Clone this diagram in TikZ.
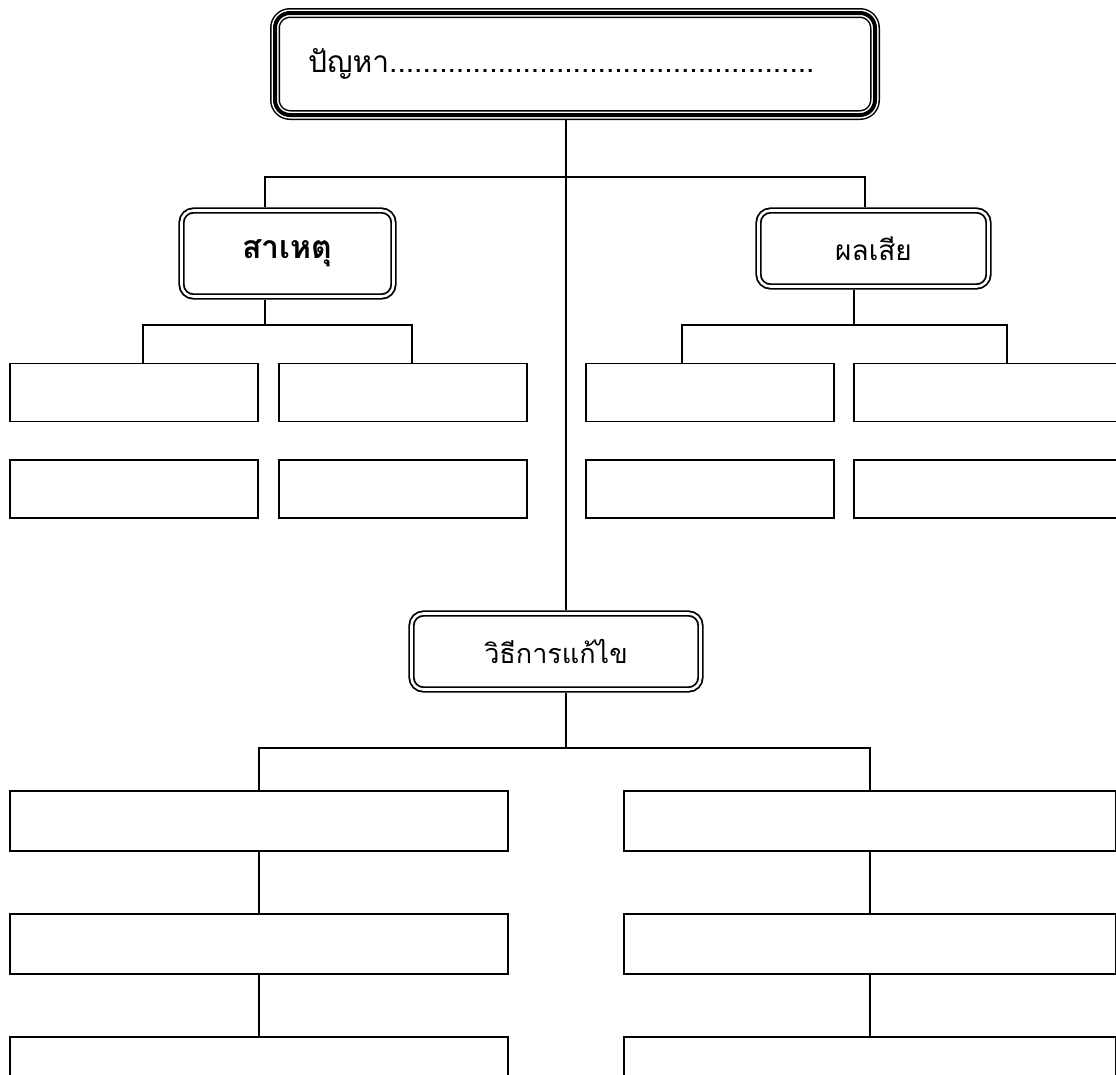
\documentclass[tikz,border=0pt]{standalone}
\usepackage{fontspec}
\newfontfamily\thaifont[Script=Thai]{Loma}
\usepackage{tikz}
\usetikzlibrary{positioning}

\begin{document}
\begin{tikzpicture}[
    x=1pt, y=-1pt,
    tripleframe/.style={rectangle, rounded corners=15pt, draw, line width=10pt,
        postaction={draw=white, line width=7pt}, postaction={draw=black, line width=4pt}},
    doubleframe/.style={rectangle, rounded corners=12pt, draw, double, line width=1.8pt,
        double distance=2.6pt, outer sep=3.5pt, inner sep=0pt},
    blank/.style={rectangle, draw, line width=1.8pt, inner sep=0pt, minimum height=58pt},
    wide/.style={blank, minimum height=60pt},
    link/.style={line width=1.5pt}
]
\clip (0,0) rectangle (1116,1074);

% Problem box
\node[tripleframe, minimum width=600pt, minimum height=102pt, text width=534pt, inner xsep=33pt,
    align=left, font=\thaifont\fontsize{30}{36}\selectfont] (problem) at (575,64)
    {ปัญหา...................................................};

% Cause and effect
\node[doubleframe, minimum width=212pt, minimum height=86pt,
    font=\thaifont\bfseries\fontsize{32}{38}\selectfont] (cause) at (287.5,253.5) {สาเหตุ};
\node[doubleframe, minimum width=230pt, minimum height=76pt,
    font=\thaifont\fontsize{28}{33}\selectfont] (effect) at (873.5,248.5) {ผลเสีย};

% Cause boxes
\node[blank, minimum width=248pt] (c1) at (134,392.5) {};
\node[blank, minimum width=248pt] (c2) at (403,392.5) {};
\node[blank, minimum width=248pt] (c3) at (134,489) {};
\node[blank, minimum width=248pt] (c4) at (403,489) {};

% Effect boxes
\node[blank, minimum width=248pt] (e1) at (710,392.5) {};
\node[blank, minimum width=270pt] (e2) at (989,392.5) {};
\node[blank, minimum width=248pt] (e3) at (710,489) {};
\node[blank, minimum width=270pt] (e4) at (989,489) {};

% Solution
\node[doubleframe, minimum width=289pt, minimum height=76pt,
    font=\thaifont\fontsize{27}{32}\selectfont] (solution) at (556,651.5) {วิธีการแก้ไข};

\node[wide, minimum width=498pt] (s1) at (259,821) {};
\node[wide, minimum width=498pt] (s2) at (259,944) {};
\node[wide, minimum width=498pt] (s3) at (259,1067) {};
\node[wide, minimum width=492pt] (r1) at (870,821) {};
\node[wide, minimum width=492pt] (r2) at (870,944) {};
\node[wide, minimum width=492pt] (r3) at (870,1067) {};

% Junctions
\coordinate (trunk) at (566,177);
\coordinate (causesplit) at (265,325);
\coordinate (effectsplit) at (854,325);
\coordinate (solvesplit) at (566,748);

% Lines
\draw[link] (problem.south -| trunk) -- (solution.north -| trunk);
\draw[link] ([xshift=-22.5pt]cause.north) |- (trunk) -| ([xshift=-8.5pt]effect.north);
\draw[link] ([xshift=-22.5pt]cause.south) -- (causesplit);
\draw[link] ([xshift=9pt]c1.north) |- (causesplit) -| ([xshift=9pt]c2.north);
\draw[link] ([xshift=-19.5pt]effect.south) -- (effectsplit);
\draw[link] ([xshift=-28pt]e1.north) |- (effectsplit) -| ([xshift=18pt]e2.north);
\draw[link] (solution.south -| solvesplit) -- (solvesplit);
\draw[link] (s1.north) |- (solvesplit) -| (r1.north);
\draw[link] (s1) -- (s2);
\draw[link] (s2) -- (s3);
\draw[link] (r1) -- (r2);
\draw[link] (r2) -- (r3);

\end{tikzpicture}
\end{document}
